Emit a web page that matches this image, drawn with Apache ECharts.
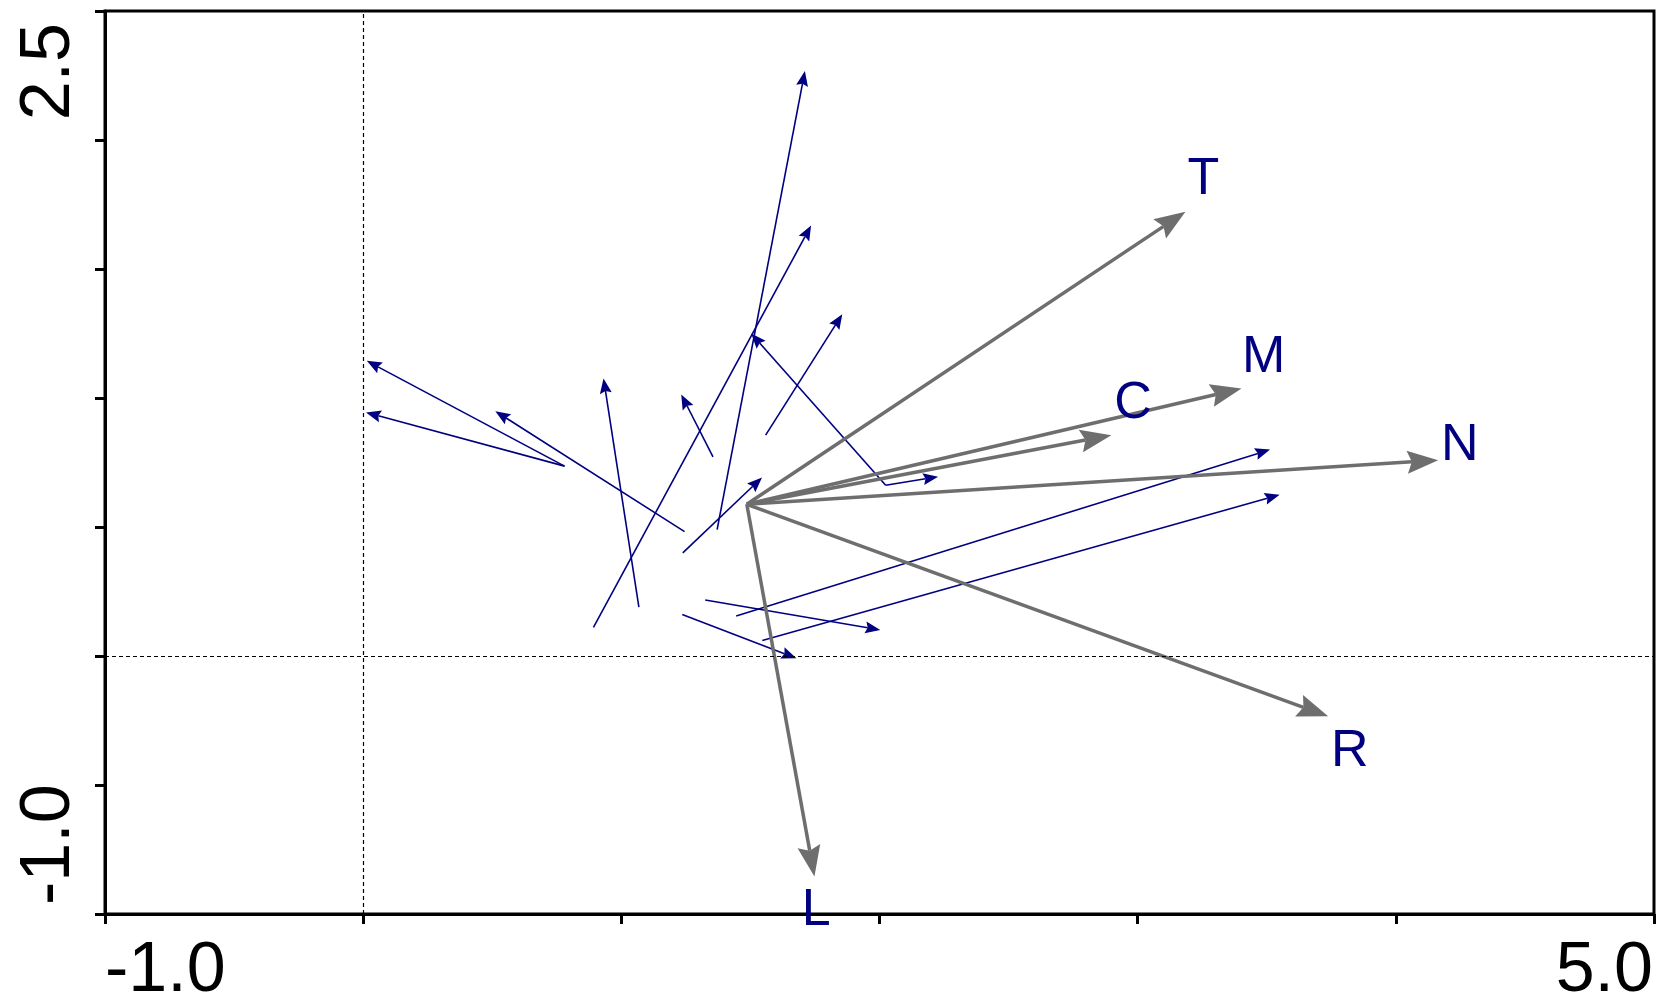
<!DOCTYPE html>
<html><head><meta charset="utf-8">
<script src="https://cdn.jsdelivr.net/npm/echarts@6/dist/echarts.min.js"></script>
<style>html,body{margin:0;padding:0;background:#fff}#c{width:1657px;height:1007px}</style>
</head><body><div id="c"></div>
<script>
// Environmental vectors (gray), all from a common origin
const envNames = ['T', 'M', 'C', 'N', 'R', 'L'];
const envOrigin = [1.486, 0.588];
const envTipX = [3.185, 3.402, 2.898, 4.164, 3.738, 1.748];
const envTipY = [1.722, 1.037, 0.856, 0.759, -0.234, -0.855];
const envLabelX = [3.255, 3.488, 2.982, 4.248, 3.822, 1.755];
const envLabelY = [1.863, 1.172, 0.992, 0.830, -0.357, -0.971];

// Thin blue arrows (tail -> head)
const arrowFromX = [1.371, 0.892, 2.024, 2.024, 1.559, 1.068, 1.355, 1.245, 0.780, 0.780, 1.238, 1.445, 1.546, 1.325, 1.236];
const arrowFromY = [0.490, 0.111, 0.662, 0.662, 0.856, 0.189, 0.772, 0.482, 0.736, 0.736, 0.400, 0.155, 0.060, 0.217, 0.161];
const arrowToX   = [1.711, 1.735, 1.503, 2.227, 1.856, 0.931, 1.232, 0.512, 0.014, 0.011, 1.545, 3.513, 3.550, 2.003, 1.678];
const arrowToY   = [2.267, 1.669, 1.250, 0.695, 1.325, 1.076, 1.014, 0.949, 1.144, 0.944, 0.692, 0.800, 0.625, 0.101, -0.009];

// Axis
const xMin = -1.0, xMax = 5.0, xStep = 1.0;
const yMin = -1.0, yMax = 2.5, yStep = 0.5;
const xTickLabels = ['-1.0', '5.0'];
const yTickLabels = ['2.5', '-1.0'];

const FONT = '"Liberation Sans", Arial, sans-serif';
const NAVY = '#000080';
const GRAY = '#6e6e6e';

const blueData = arrowFromX.map((v, i) => [v, arrowFromY[i], arrowToX[i], arrowToY[i]]);
const envData = envNames.map((n, i) => [envOrigin[0], envOrigin[1], envTipX[i], envTipY[i]]);
const labelData = envNames.map((n, i) => [envLabelX[i], envLabelY[i]]);

function arrowSeries(name, data, color, lw, headL, headW, z) {
  return {
    type: 'custom', name: name, coordinateSystem: 'cartesian2d', z: z,
    silent: true, animation: false,
    data: data, encode: { x: [0, 2], y: [1, 3] },
    renderItem: function (params, api) {
      const p0 = api.coord([api.value(0), api.value(1)]);
      const p1 = api.coord([api.value(2), api.value(3)]);
      const dx = p1[0] - p0[0], dy = p1[1] - p0[1];
      const len = Math.hypot(dx, dy) || 1;
      const ux = dx / len, uy = dy / len;
      const nx = -uy, ny = ux;
      const bx = p1[0] - ux * headL, by = p1[1] - uy * headL;
      const nxp = p1[0] - ux * headL * 0.85, nyp = p1[1] - uy * headL * 0.85;
      return {
        type: 'group',
        children: [
          { type: 'line', shape: { x1: p0[0], y1: p0[1], x2: nxp, y2: nyp },
            style: { stroke: color, lineWidth: lw } },
          { type: 'polygon', shape: { points: [
              [p1[0], p1[1]],
              [bx + nx * headW, by + ny * headW],
              [nxp, nyp],
              [bx - nx * headW, by - ny * headW]] },
            style: { fill: color } }
        ]
      };
    }
  };
}

const chart = echarts.init(document.getElementById('c'), null, { renderer: 'canvas' });

const option = {
  animation: false,
  backgroundColor: '#ffffff',
  grid: { left: 105, right: 3, top: 11, bottom: 93, show: true, borderColor: '#000', borderWidth: 3, containLabel: false },
  xAxis: {
    type: 'value', min: xMin, max: xMax, interval: xStep,
    axisLine: { show: true, onZero: false, lineStyle: { color: '#000', width: 3 } },
    axisTick: { show: true, length: 10, lineStyle: { color: '#000', width: 3 } },
    axisLabel: { show: false },
    splitLine: { show: false }
  },
  yAxis: {
    type: 'value', min: yMin, max: yMax, interval: yStep,
    axisLine: { show: true, onZero: false, lineStyle: { color: '#000', width: 3 } },
    axisTick: { show: true, length: 10, lineStyle: { color: '#000', width: 3 } },
    axisLabel: { show: false },
    splitLine: { show: false }
  },
  series: [
    {
      type: 'line', data: [], z: 1, silent: true,
      markLine: {
        silent: true, symbol: ['none', 'none'], animation: false,
        label: { show: false },
        lineStyle: { color: '#000', width: 1.2, type: [4, 3] },
        data: [{ xAxis: 0 }, { yAxis: 0 }]
      }
    },
    arrowSeries('blue', blueData, NAVY, 1.6, 15, 6, 2),
    arrowSeries('env', envData, GRAY, 3.5, 31, 11.5, 3),
    {
      type: 'custom', name: 'labels', coordinateSystem: 'cartesian2d', z: 4,
      silent: true, animation: false,
      data: labelData, encode: { x: 0, y: 1 },
      renderItem: function (params, api) {
        const p = api.coord([api.value(0), api.value(1)]);
        return {
          type: 'text', x: p[0], y: p[1] + 4,
          style: { text: envNames[params.dataIndex], fill: NAVY, fontSize: 52, fontFamily: FONT,
                   align: 'center', verticalAlign: 'middle' }
        };
      }
    }
  ]
};
chart.setOption(option);

const X = v => chart.convertToPixel({ xAxisIndex: 0 }, v);
const Y = v => chart.convertToPixel({ yAxisIndex: 0 }, v);
const axisFont = { fontSize: 70, fontFamily: FONT, fill: '#000' };
chart.setOption({
  graphic: [
    { type: 'text', x: X(xMin), y: 972, style: Object.assign({ text: xTickLabels[0], align: 'left', verticalAlign: 'middle' }, axisFont) },
    { type: 'text', x: X(xMax) - 1, y: 972, style: Object.assign({ text: xTickLabels[1], align: 'right', verticalAlign: 'middle' }, axisFont) },
    { type: 'text', x: 50, y: Y(yMax) + 12, rotation: Math.PI / 2, style: Object.assign({ text: yTickLabels[0], align: 'right', verticalAlign: 'middle' }, axisFont) },
    { type: 'text', x: 50, y: Y(yMin) - 9, rotation: Math.PI / 2, style: Object.assign({ text: yTickLabels[1], align: 'left', verticalAlign: 'middle' }, axisFont) }
  ]
});
</script>
</body></html>
